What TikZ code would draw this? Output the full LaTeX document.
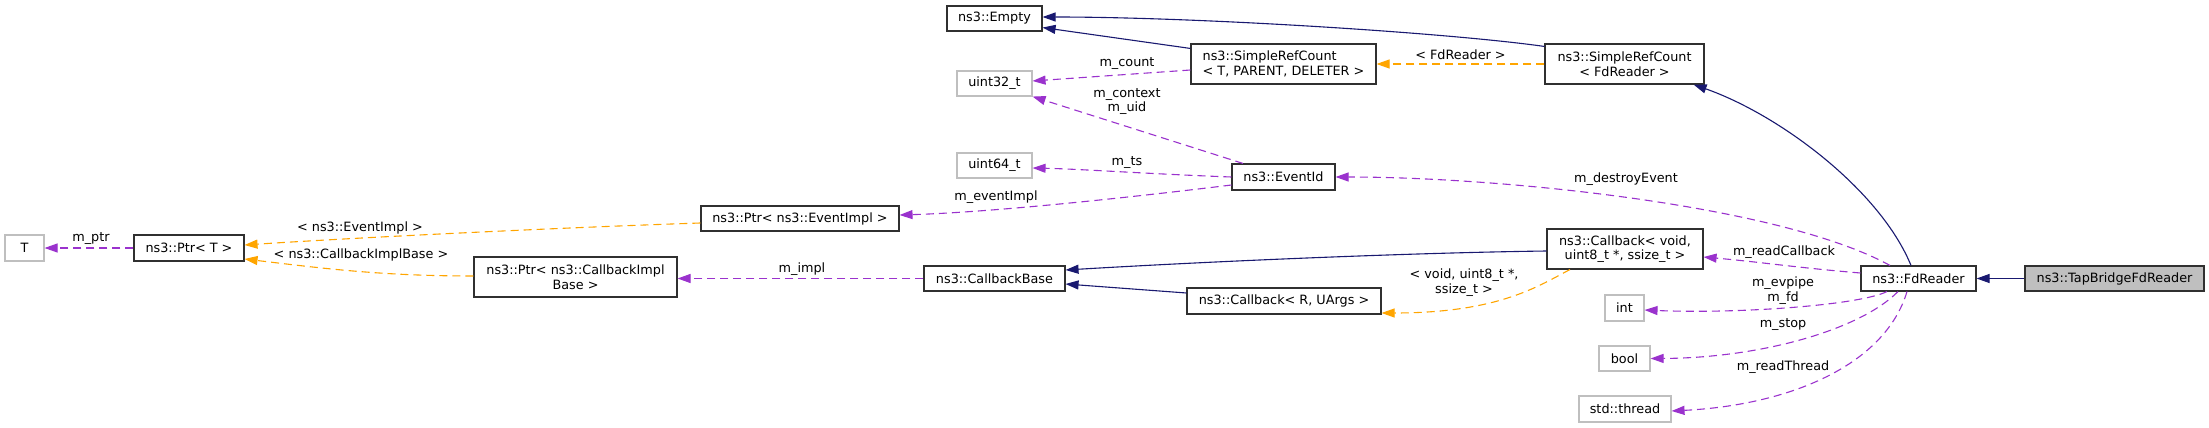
\documentclass[tikz,border=0pt]{standalone}
\usepackage{fontspec}
\setmainfont{DejaVu Sans}
\usetikzlibrary{arrows.meta,calc}
\definecolor{inhcol}{HTML}{191970}
\definecolor{memcol}{HTML}{9A32CD}
\definecolor{tplcol}{HTML}{FFA500}
\definecolor{grayb}{HTML}{BFBFBF}
\definecolor{boxb}{HTML}{303030}
\tikzset{
  txt/.style={font=\fontsize{12.8}{14.7}\selectfont},
  cls/.style={txt, draw=boxb, line width=1.1, fill=white, inner sep=0, align=center},
  ext/.style={cls, draw=grayb},
  lbl/.style={txt, inner sep=0, align=center},
  tip/.style={-{Triangle[length=13,width=9]}},
  inh/.style={draw=inhcol, line width=1.1, tip},
  mem/.style={draw=memcol, line width=1.1, dash pattern=on 8 off 5, tip},
  tpl/.style={draw=tplcol, line width=1.1, dash pattern=on 8 off 5, tip},
}
\begin{document}
\begin{tikzpicture}[x=1pt,y=-1pt]
\useasboundingbox (0,0) rectangle (2209,428);
% nodes
\node[ext, minimum width=39, minimum height=26] (T) at (24.5,248) {T};
\node[cls, minimum width=110, minimum height=26] (PtrT) at (189,248) {ns3::Ptr< T >};
\node[cls, minimum width=198, minimum height=25] (PtrEv) at (800,218.5) {ns3::Ptr< ns3::EventImpl >};
\node[cls, minimum width=203, minimum height=40] (PtrCB) at (575.5,277) {ns3::Ptr< ns3::CallbackImpl\\Base >};
\node[cls, minimum width=95, minimum height=25] (Empty) at (994.5,18.5) {ns3::Empty};
\node[cls, minimum width=185, minimum height=40, align=left] (SRCT) at (1283.5,64) {ns3::SimpleRefCount\\< T, PARENT, DELETER >};
\node[ext, minimum width=75, minimum height=25] (u32) at (994.5,83.5) {uint32\_t};
\node[ext, minimum width=75, minimum height=25] (u64) at (994.5,165.5) {uint64\_t};
\node[cls, minimum width=103, minimum height=26] (EvId) at (1283.5,177) {ns3::EventId};
\node[cls, minimum width=141, minimum height=25] (CBB) at (994.5,278.5) {ns3::CallbackBase};
\node[cls, minimum width=194, minimum height=26] (CBR) at (1284,301) {ns3::Callback< R, UArgs >};
\node[cls, minimum width=159, minimum height=40] (SRCF) at (1624.5,64) {ns3::SimpleRefCount\\< FdReader >};
\node[cls, minimum width=156, minimum height=40] (CBV) at (1625,249) {ns3::Callback< void,\\uint8\_t *, ssize\_t >};
\node[ext, minimum width=39, minimum height=26] (int) at (1624.5,308) {int};
\node[ext, minimum width=51, minimum height=25] (bool) at (1624.5,358.5) {bool};
\node[ext, minimum width=92, minimum height=26] (thr) at (1625,409) {std::thread};
\node[cls, minimum width=115, minimum height=25] (Fd) at (1918.5,278.5) {ns3::FdReader};
\node[cls, fill=grayb, minimum width=179, minimum height=25] (Tap) at (2114.5,278.5) {ns3::TapBridgeFdReader};

% inheritance
\draw[inh] ([yshift=-5]SRCT.north west) -- ([yshift=4]Empty.south east);
\draw[inh] ([yshift=-3]SRCF.north west) .. controls (1450,33) and (1200,17) .. ([yshift=1.5]Empty.east);
\draw[inh] ([xshift=-7.5]Fd.north) .. controls (1880,190) and (1780,115) .. ([xshift=-11]SRCF.south east);
\draw[inh] (Tap.west) -- (Fd.east);
\draw[inh] ([yshift=-2]CBV.west) .. controls (1400,253) and (1200,262) .. ([yshift=8.5]CBB.east);
\draw[inh] ([yshift=8]CBR.west) -- ([yshift=-5.5]CBB.east);

% templates
\draw[tpl] (SRCF.west) -- (SRCT.east) node[lbl, pos=0.5, above=4] (lFd) {< FdReader >};
\draw[tpl] ([xshift=-55]CBV.south) .. controls (1540,285) and (1500,313) .. ([yshift=-12]CBR.east);
\node[lbl] (lcbv) at (1464,282.5) {< void, uint8\_t *,\\ssize\_t >};
\draw[tpl] ([yshift=-4.5]PtrEv.west) .. controls (550,228) and (350,238) .. ([yshift=3]PtrT.east);
\node[lbl] (lev) at (360,228) {< ns3::EventImpl >};
\draw[tpl] ([yshift=1]PtrCB.west) .. controls (380,276) and (320,268) .. ([yshift=-11]PtrT.east);
\node[lbl] (lcb) at (361,255) {< ns3::CallbackImplBase >};

% members
\draw[mem] ([xshift=-28.5]Fd.north) .. controls (1780,205) and (1500,177) .. (EvId.east);
\node[lbl] (ld) at (1626,179) {m\_destroyEvent};
\draw[mem] ([yshift=5.5]Fd.west) .. controls (1800,268) and (1760,262) .. ([yshift=-8]CBV.east);
\node[lbl] (lrc) at (1784,252) {m\_readCallback};
\draw[mem] ([xshift=-31.5]Fd.south) .. controls (1860,305) and (1740,314) .. ([yshift=-2]int.east);
\node[lbl] (lev2) at (1783,290.5) {m\_evpipe\\m\_fd};
\draw[mem] ([xshift=-20.5]Fd.south) .. controls (1860,330) and (1760,358) .. (bool.east);
\node[lbl] (lst) at (1783,325) {m\_stop};
\draw[mem] ([xshift=-11.5]Fd.south) .. controls (1885,365) and (1790,405) .. ([yshift=-2]thr.east);
\node[lbl] (lrt) at (1783,367) {m\_readThread};
\draw[mem] (CBB.west) -- ([yshift=-1.5]PtrCB.east);
\node[lbl] (lim) at (802,269) {m\_impl};
\draw[mem] ([yshift=-8]EvId.west) .. controls (1150,195) and (1000,212) .. ([yshift=3.5]PtrEv.east);
\node[lbl] (lei) at (996,197) {m\_eventImpl};
\draw[mem] (EvId.west) .. controls (1150,174) and (1080,169) .. ([yshift=-2.5]u64.east);
\node[lbl] (lts) at (1127,163) {m\_ts};
\draw[mem] ([xshift=-40.5]EvId.north) -- (u32.south east);
\node[lbl] (lctx) at (1127,101.5) {m\_context\\m\_uid};
\draw[mem] ([yshift=-6]SRCT.west) -- ([yshift=2.5]u32.east);
\node[lbl] (lcnt) at (1127,64) {m\_count};
\draw[mem] (PtrT.west) -- (T.east);
\node[lbl] (lptr) at (91,239) {m\_ptr};
\end{tikzpicture}
\end{document}
